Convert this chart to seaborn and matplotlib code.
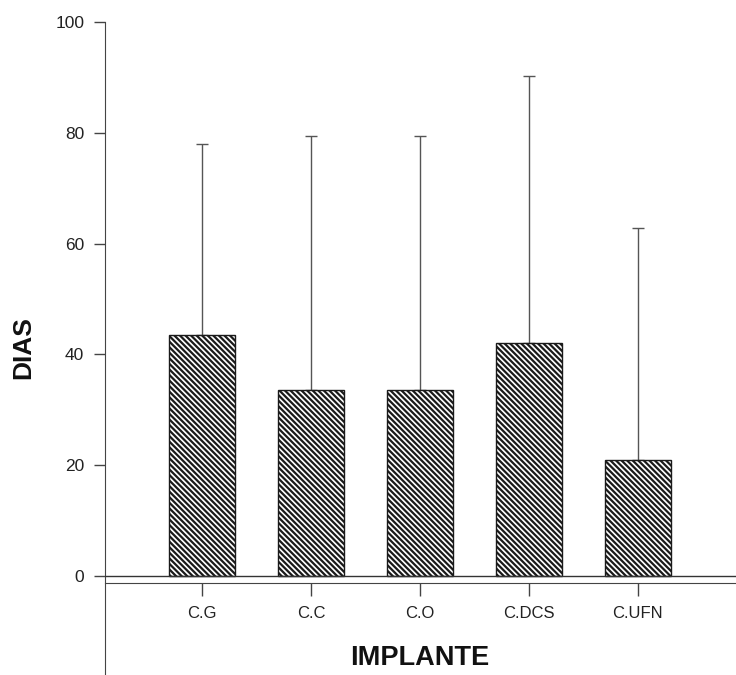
import matplotlib
matplotlib.use("Agg")
import matplotlib.pyplot as plt
import seaborn as sns
import numpy as np
import pandas as pd

categories = ["C.G", "C.C", "C.O", "C.DCS", "C.UFN"]
means = [43.5, 33.5, 33.5, 42.0, 21.0]
upper_err = [34.5, 46.0, 46.0, 48.3, 41.8]
yticks = [0, 20, 40, 60, 80, 100]

sns.set_style("ticks")
plt.rcParams["font.family"] = ["Liberation Sans", "DejaVu Sans"]
plt.rcParams["hatch.linewidth"] = 1.6
plt.rcParams["hatch.color"] = "#262626"

df = pd.DataFrame({"cat": categories, "val": means})

fig = plt.figure(figsize=(7.36, 6.75), dpi=100)
ax = fig.add_axes([105/736, 0.0, 1 - 105/736, 1 - 22/675])

sns.barplot(data=df, x="cat", y="val", color="white", edgecolor="#1a1a1a",
            linewidth=1.0, width=0.6, errorbar=None, ax=ax)
for p in ax.patches:
    p.set_hatch("\\\\\\\\\\\\")
    p.set_zorder(3)

ax.errorbar(np.arange(len(categories)), means,
            yerr=[np.zeros(len(means)), upper_err],
            fmt="none", ecolor="#555555", elinewidth=1.0, capsize=4, capthick=1.0, zorder=2)

ax.set_xlim(-0.89, 4.9)
ax.set_ylim(-17.9, 100)
ax.axhline(0, color="#333333", lw=1.0, zorder=4)

ax.spines["top"].set_visible(False)
ax.spines["right"].set_visible(False)
ax.spines["left"].set_bounds(-17.9, 100)
ax.spines["left"].set_color("#444444")
ax.spines["bottom"].set_position(("data", -1.26))
ax.spines["bottom"].set_color("#444444")

ax.set_yticks(yticks)
ax.set_yticklabels([str(v) for v in yticks])
ax.tick_params(axis="y", length=8, width=1.0, color="#444444", pad=7, labelsize=12.5, labelcolor="#222222")
ax.tick_params(axis="x", length=9, width=1.0, color="#444444", pad=8, labelsize=12, labelcolor="#222222")
ax.set_xlabel("")
ax.set_ylabel("")

fig.text(23/736, 1 - 348/675, "DIAS", rotation=90, ha="center", va="center",
         fontsize=19, fontweight="bold", color="#111111")
fig.text(420/736, 1 - 658/675, "IMPLANTE", ha="center", va="center",
         fontsize=19.5, fontweight="bold", color="#111111")

fig.savefig("out.png", dpi=100)
